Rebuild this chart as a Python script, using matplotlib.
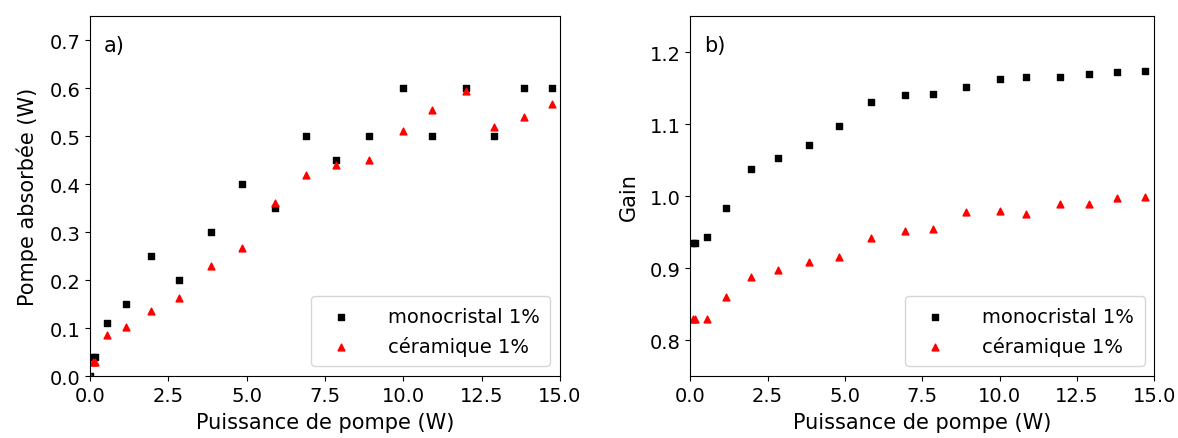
import matplotlib.pyplot as plt

# Puissance de pompe (W)
x_a = [0.0, 0.08, 0.15, 0.55, 1.15, 1.95, 2.85, 3.85, 4.85, 5.9, 6.9, 7.85, 8.9, 10.0, 10.9, 12.0, 12.9, 13.85, 14.75]
# a) pompe absorbée (W)
mono_a = [0.0, 0.04, 0.04, 0.11, 0.15, 0.25, 0.2, 0.3, 0.4, 0.35, 0.5, 0.45, 0.5, 0.6, 0.5, 0.6, 0.5, 0.6, 0.6]
cera_a = [0.0, 0.03, 0.03, 0.085, 0.102, 0.135, 0.163, 0.23, 0.267, 0.36, 0.42, 0.44, 0.451, 0.51, 0.555, 0.595, 0.52, 0.54, 0.566]

x_b = [0.08, 0.15, 0.55, 1.15, 1.95, 2.85, 3.85, 4.8, 5.85, 6.95, 7.85, 8.9, 10.0, 10.85, 11.95, 12.9, 13.8, 14.7]
# b) gain
mono_b = [0.935, 0.935, 0.943, 0.984, 1.038, 1.053, 1.071, 1.098, 1.131, 1.140, 1.142, 1.152, 1.163, 1.165, 1.165, 1.169, 1.173, 1.174]
cera_b = [0.83, 0.83, 0.83, 0.86, 0.887, 0.898, 0.909, 0.916, 0.942, 0.952, 0.954, 0.978, 0.98, 0.975, 0.989, 0.989, 0.997, 0.999]

labels = ["monocristal 1%", "céramique 1%"]
xticks = [0.0, 2.5, 5.0, 7.5, 10.0, 12.5, 15.0]

fig = plt.figure(figsize=(11.78, 4.39), dpi=100)
ax1 = fig.add_axes([0.0764, 0.141, 0.4754 - 0.0764, 0.961 - 0.141])
ax2 = fig.add_axes([0.586, 0.141, 0.980 - 0.586, 0.961 - 0.141])

for ax, x, mono, cera in [(ax1, x_a, mono_a, cera_a), (ax2, x_b, mono_b, cera_b)]:
    ax.scatter(x, mono, marker='s', s=24, color='black', label=labels[0])
    ax.scatter(x, cera, marker='^', s=24, color='red', label=labels[1])
    ax.set_xlim(0, 15)
    ax.set_xticks(xticks)
    ax.set_xlabel("Puissance de pompe (W)", fontsize=15, labelpad=5)
    ax.tick_params(labelsize=14)
    ax.legend(loc='lower right', fontsize=14, handletextpad=1.4, borderpad=0.55)

ax1.set_ylim(0, 0.75)
ax1.set_ylabel("Pompe absorbée (W)", fontsize=15, labelpad=8)
ax1.text(0.03, 0.92, "a)", transform=ax1.transAxes, fontsize=15, va='center')

ax2.set_ylim(0.75, 1.25)
ax2.set_yticks([0.8, 0.9, 1.0, 1.1, 1.2])
ax2.set_ylabel("Gain", fontsize=15, labelpad=8)
ax2.text(0.03, 0.92, "b)", transform=ax2.transAxes, fontsize=15, va='center')

plt.savefig("out.png", dpi=100)
